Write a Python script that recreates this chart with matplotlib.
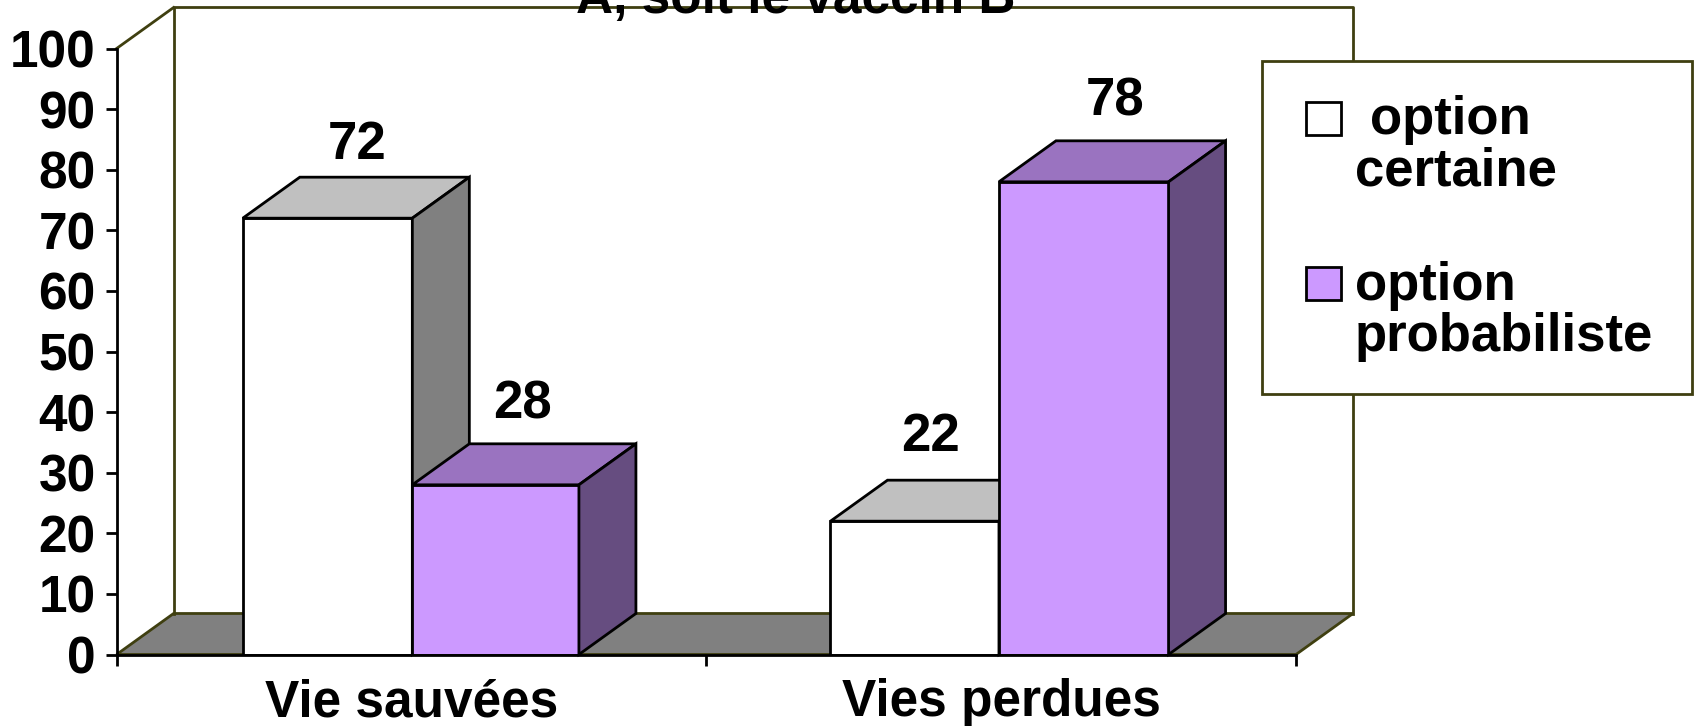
import matplotlib
matplotlib.use("Agg")
import matplotlib.pyplot as plt
from matplotlib.patches import Polygon, Rectangle

plt.rcParams["font.family"] = ["Liberation Sans", "DejaVu Sans"]
plt.rcParams["font.weight"] = "bold"

categories = ["Vie sauvées", "Vies perdues"]
option_certaine = [72, 22]
option_probabiliste = [28, 78]
yticks = [0, 10, 20, 30, 40, 50, 60, 70, 80, 90, 100]
title_text = "A, soit le vaccin B"

# bar edges along the category axis: left, middle, right of each group
group_edges = [(0.214, 0.5015, 0.784), (1.2106, 1.4963, 1.7839)]
# nudges of the value labels, in points
certaine_nudge = [(1, 13), (-9, 21)]
probabiliste_nudge = [(-1, 18), (2, 18)]

W, H = 1694, 726
fig = plt.figure(figsize=(W / 100, H / 100), dpi=100)
ax = fig.add_axes([116.6 / W, (H - 654.5) / H, (1296 - 116.6) / W, 606 / H])
ax.set_xlim(0, 2)
ax.set_ylim(0, 100)

# depth of the fake 3d box, in data units
dx = 57 / 589.7
dy = 41 / 6.06
wall = "#3f3f10"
edge = "black"
lw = 2

# walls and floor
ax.add_patch(Polygon([(0, 0), (dx, dy), (2 + dx, dy), (2, 0)], facecolor="#808080",
                     edgecolor=wall, lw=lw, clip_on=False, zorder=1))
ax.plot([dx, dx, 2 + dx, 2 + dx], [dy, 100 + dy, 100 + dy, dy], color=wall, lw=lw,
        clip_on=False, zorder=1)
ax.plot([0, dx], [100, 100 + dy], color=wall, lw=lw, clip_on=False, zorder=1)


def bar3d(x, w, v, front, top, side, nudge):
    ax.bar(x, v, w, align="edge", color=front, edgecolor=edge, lw=lw, zorder=2)
    ax.add_patch(Polygon([(x, v), (x + dx, v + dy), (x + w + dx, v + dy), (x + w, v)],
                         facecolor=top, edgecolor=edge, lw=lw, clip_on=False, zorder=2))
    ax.add_patch(Polygon([(x + w, 0), (x + w + dx, dy), (x + w + dx, v + dy), (x + w, v)],
                         facecolor=side, edgecolor=edge, lw=lw, clip_on=False, zorder=2))
    ax.annotate(str(v), (x + w / 2 + dx / 2, v + dy), xytext=nudge,
                textcoords="offset points", ha="center", va="baseline",
                fontsize=38, fontweight="bold", zorder=5)


for i in range(len(categories)):
    a, b, c = group_edges[i]
    bar3d(a, b - a, option_certaine[i], "white", "#c0c0c0", "#808080", certaine_nudge[i])
    bar3d(b, c - b, option_probabiliste[i], "#cc99ff", "#9a73c0", "#664d80", probabiliste_nudge[i])

for s in ["top", "right"]:
    ax.spines[s].set_visible(False)
for s in ["left", "bottom"]:
    ax.spines[s].set_linewidth(lw)
    ax.spines[s].set_zorder(3)

ax.set_yticks(yticks)
ax.set_xticks([0, 1, 2])
ax.set_xticklabels([])
ax.set_xticks([0.5, 1.5], minor=True)
ax.set_xticklabels(categories, minor=True)
ax.tick_params(axis="y", length=8, width=lw, labelsize=37, pad=7)
ax.tick_params(axis="x", which="major", length=8, width=lw)
ax.tick_params(axis="x", which="minor", length=0, labelsize=37, pad=17)
for t in ax.get_yticklabels():
    t.set_va("center_baseline")

# overlay in pixel coordinates for the legend box and cut off title
ov = fig.add_axes([0, 0, 1, 1], zorder=10)
ov.set_xlim(0, W)
ov.set_ylim(H, 0)
ov.axis("off")
ov.text(796, 13, title_text, ha="center", va="baseline", fontsize=37, fontweight="bold")

ov.add_patch(Rectangle((1262, 61), 430, 333, facecolor="white", edgecolor=wall, lw=lw))
ov.add_patch(Rectangle((1306, 102), 35, 33, facecolor="white", edgecolor=edge, lw=lw))
ov.add_patch(Rectangle((1306, 267), 35, 33, facecolor="#cc99ff", edgecolor=edge, lw=lw))
ov.text(1370, 134, "option", fontsize=38, va="baseline")
ov.text(1355, 185, "certaine", fontsize=38, va="baseline")
ov.text(1355, 300, "option", fontsize=38, va="baseline")
ov.text(1355, 351, "probabiliste", fontsize=38, va="baseline")

fig.savefig("out.png", dpi=100)
